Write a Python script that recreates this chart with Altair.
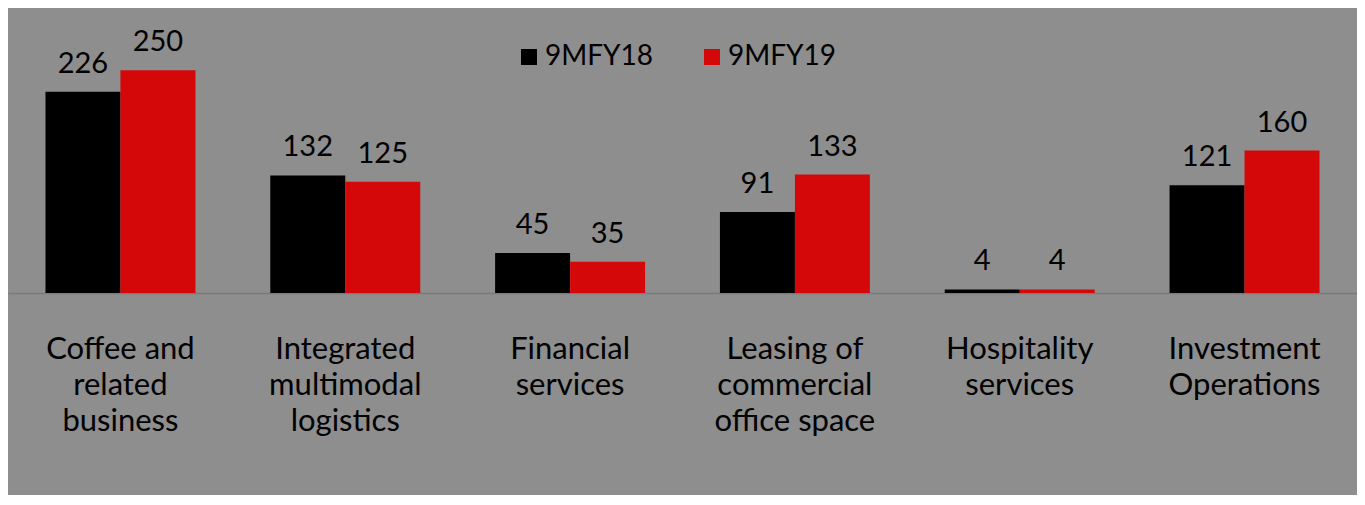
import altair as alt
import pandas as pd

categories = [
    "Coffee and\nrelated\nbusiness",
    "Integrated\nmultimodal\nlogistics",
    "Financial\nservices",
    "Leasing of\ncommercial\noffice space",
    "Hospitality\nservices",
    "Investment\nOperations",
]
series = ["9MFY18", "9MFY19"]
values_fy18 = [226, 132, 45, 91, 4, 121]
values_fy19 = [250, 125, 35, 133, 4, 160]
colors = ["#000000", "#d40808"]

rows = []
for c, a, b in zip(categories, values_fy18, values_fy19):
    rows.append({"category": c, "series": series[0], "value": a})
    rows.append({"category": c, "series": series[1], "value": b})
df = pd.DataFrame(rows)

FONT = "Lato"

x = alt.X(
    "category:N",
    sort=categories,
    scale=alt.Scale(paddingInner=0.333, paddingOuter=0.1667),
    axis=alt.Axis(
        title=None,
        labelAngle=0,
        labelExpr="split(datum.label, '\\n')",
        labelFont=FONT,
        labelFontSize=31,
        labelColor="#000000",
        labelLineHeight=36,
        labelPadding=41,
        labelBaseline="top",
        ticks=False,
        domainColor="#7a7a7a",
        domainWidth=1.5,
        labelLimit=400,
    ),
)
xo = alt.XOffset("series:N", sort=series, scale=alt.Scale(paddingInner=0, paddingOuter=0))
y = alt.Y("value:Q", scale=alt.Scale(domain=[0, 320]), axis=None)

bars = alt.Chart(df).mark_bar().encode(
    x=x,
    xOffset=xo,
    y=y,
    color=alt.Color(
        "series:N",
        sort=series,
        scale=alt.Scale(domain=series, range=colors),
        legend=alt.Legend(
            title=None,
            orient="none",
            legendX=507,
            legendY=35,
            direction="horizontal",
            symbolType="square",
            symbolSize=256,
            symbolStrokeWidth=0,
            labelFont=FONT,
            labelFontSize=28,
            labelColor="#000000",
            labelOffset=2,
            columnPadding=44,
        ),
    ),
)

labels = alt.Chart(df).mark_text(
    font=FONT, fontSize=29, color="#000000", baseline="alphabetic", dy=-19
).encode(
    x=alt.X("category:N", sort=categories),
    xOffset=xo,
    y=y,
    text=alt.Text("value:Q"),
)

chart = (
    alt.layer(bars, labels)
    .properties(width=1349, height=285, padding={"left": 0, "top": 0, "right": 0, "bottom": 59})
    .configure(background="#8e8e8e")
    .configure_view(stroke=None)
)

chart.save("out.html", embed_options={"renderer": "svg", "actions": False})
